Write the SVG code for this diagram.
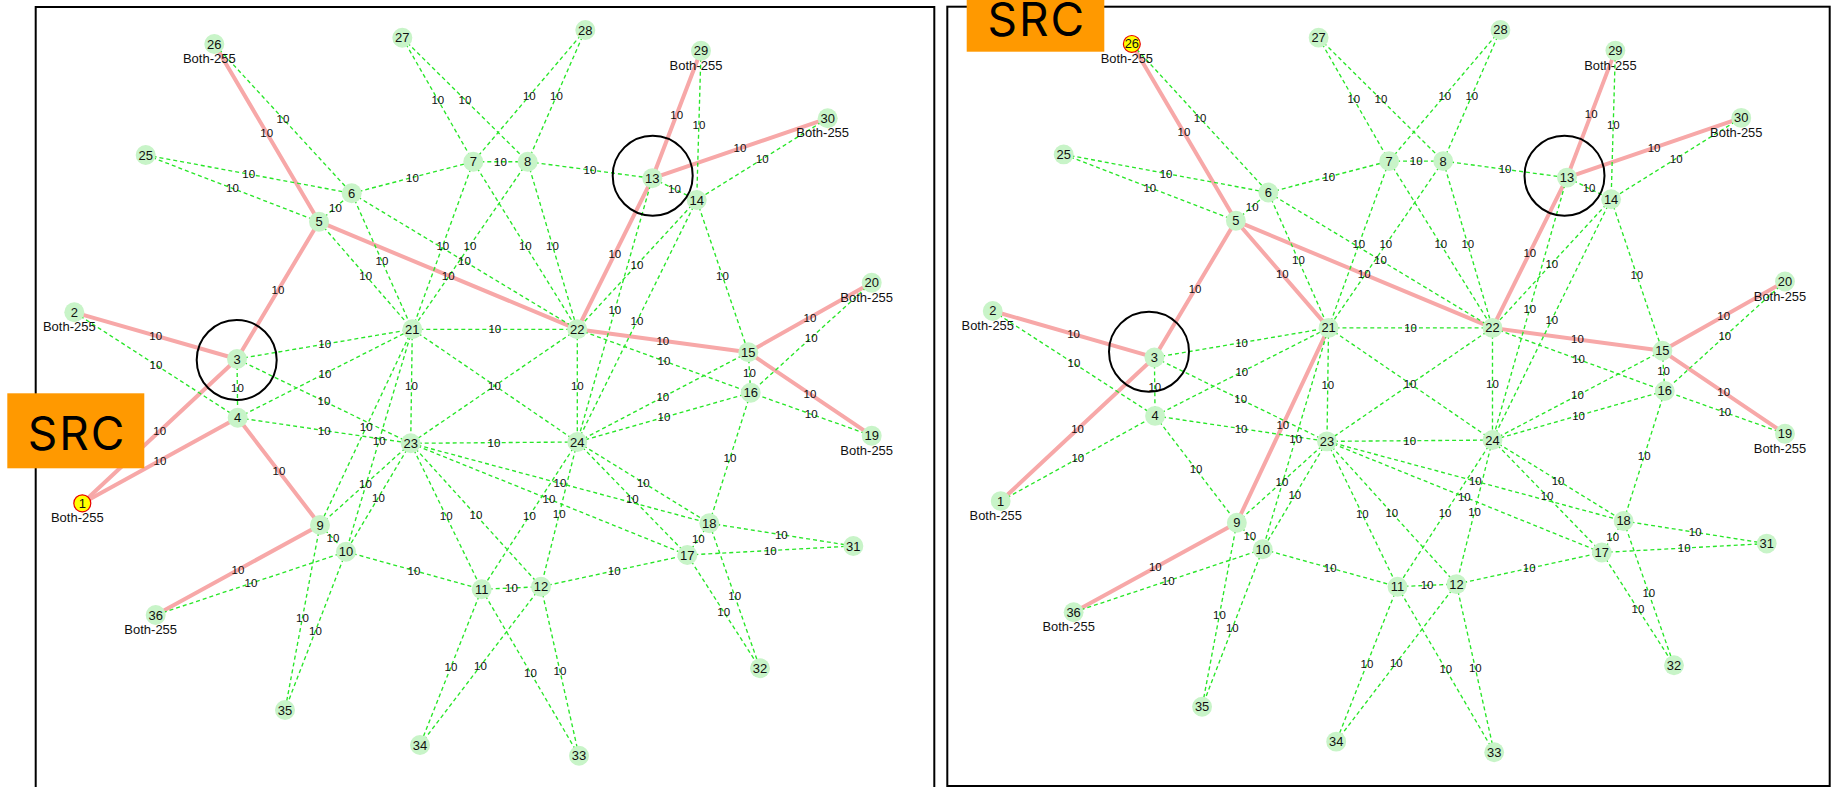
<svg xmlns="http://www.w3.org/2000/svg" width="1832" height="787" viewBox="0 0 1832 787">
<style>
  .frame{fill:none;stroke:#000;stroke-width:2}
  .g line{stroke:#28e628;stroke-width:1.35;stroke-dasharray:4 3;fill:none}
  .r line{stroke:#f7a8a8;stroke-width:4;stroke-linecap:round}
  .lbl text{font-family:"Liberation Sans",Arial,sans-serif;font-size:11.5px;fill:#111;text-anchor:middle;dominant-baseline:central}
  .node circle{fill:#c8f4c8}
  .node circle.src{fill:#ffff00;stroke:#e80000;stroke-width:1.2}
  .node text{font-family:"Liberation Sans",Arial,sans-serif;font-size:13px;fill:#111;text-anchor:middle;dominant-baseline:central}
  .node text.tag{font-size:13px}
  .ring{fill:none;stroke:#000;stroke-width:2}
  .badge rect{fill:#ff9900}
  .badge text{font-family:Inter,"DejaVu Sans",sans-serif;font-size:46px;letter-spacing:2px;fill:#000;text-anchor:middle}
</style>
<rect width="1832" height="787" fill="#fff"/>

<!-- left panel frame -->
<rect class="frame" x="35.7" y="7" width="898.6" height="800"/>
<!-- right panel frame -->
<rect class="frame" x="947.3" y="6.7" width="882.4" height="779.3"/>

<!-- ===== Left panel ===== -->
<g id="panel-a">
  <g id="a-connectors">
    <g class="r">
      <line x1="214.3" y1="44" x2="319" y2="221.7"/>
      <line x1="701" y1="50.7" x2="652.3" y2="178.3"/>
      <line x1="827.7" y1="118.3" x2="652.3" y2="178.3"/>
      <line x1="319" y1="221.7" x2="237" y2="359"/>
      <line x1="319" y1="221.7" x2="577.3" y2="329.3"/>
      <line x1="652.3" y1="178.3" x2="577.3" y2="329.3"/>
      <line x1="871.7" y1="282.7" x2="748.3" y2="352.3"/>
      <line x1="871.7" y1="435.7" x2="748.3" y2="352.3"/>
      <line x1="577.3" y1="329.3" x2="748.3" y2="352.3"/>
      <line x1="74.3" y1="312.3" x2="237" y2="359"/>
      <line x1="82.3" y1="503.3" x2="237" y2="359"/>
      <line x1="320" y1="525" x2="155.7" y2="615"/>
      <line x1="82.3" y1="503.3" x2="237.7" y2="417.7"/>
      <line x1="237.7" y1="417.7" x2="320" y2="525"/>
    </g>
    <g class="g">
      <line x1="214.3" y1="44" x2="351.7" y2="193.3"/>
      <line x1="145.7" y1="155" x2="351.7" y2="193.3"/>
      <line x1="145.7" y1="155" x2="319" y2="221.7"/>
      <line x1="402.3" y1="37.7" x2="473.3" y2="161.7"/>
      <line x1="402.3" y1="37.7" x2="527.7" y2="161.7"/>
      <line x1="585.3" y1="30" x2="473.3" y2="161.7"/>
      <line x1="585.3" y1="30" x2="527.7" y2="161.7"/>
      <line x1="701" y1="50.7" x2="696.7" y2="200"/>
      <line x1="827.7" y1="118.3" x2="696.7" y2="200"/>
      <line x1="319" y1="221.7" x2="351.7" y2="193.3"/>
      <line x1="351.7" y1="193.3" x2="473.3" y2="161.7"/>
      <line x1="473.3" y1="161.7" x2="527.7" y2="161.7"/>
      <line x1="527.7" y1="161.7" x2="652.3" y2="178.3"/>
      <line x1="652.3" y1="178.3" x2="696.7" y2="200"/>
      <line x1="351.7" y1="193.3" x2="412.3" y2="329.3"/>
      <line x1="351.7" y1="193.3" x2="577.3" y2="329.3"/>
      <line x1="473.3" y1="161.7" x2="412.3" y2="329.3"/>
      <line x1="473.3" y1="161.7" x2="577.3" y2="329.3"/>
      <line x1="527.7" y1="161.7" x2="412.3" y2="329.3"/>
      <line x1="527.7" y1="161.7" x2="577.3" y2="329.3"/>
      <line x1="652.3" y1="178.3" x2="577.3" y2="442"/>
      <line x1="696.7" y1="200" x2="577.3" y2="329.3"/>
      <line x1="696.7" y1="200" x2="577.3" y2="442"/>
      <line x1="696.7" y1="200" x2="748.3" y2="352.3"/>
      <line x1="871.7" y1="282.7" x2="750.7" y2="392.7"/>
      <line x1="871.7" y1="435.7" x2="750.7" y2="392.7"/>
      <line x1="748.3" y1="352.3" x2="750.7" y2="392.7"/>
      <line x1="577.3" y1="329.3" x2="750.7" y2="392.7"/>
      <line x1="748.3" y1="352.3" x2="577.3" y2="442"/>
      <line x1="750.7" y1="392.7" x2="577.3" y2="442"/>
      <line x1="750.7" y1="392.7" x2="709.3" y2="523.3"/>
      <line x1="412.3" y1="329.3" x2="577.3" y2="329.3"/>
      <line x1="412.3" y1="329.3" x2="410.7" y2="443.3"/>
      <line x1="412.3" y1="329.3" x2="577.3" y2="442"/>
      <line x1="577.3" y1="329.3" x2="410.7" y2="443.3"/>
      <line x1="577.3" y1="329.3" x2="577.3" y2="442"/>
      <line x1="410.7" y1="443.3" x2="577.3" y2="442"/>
      <line x1="74.3" y1="312.3" x2="237.7" y2="417.7"/>
      <line x1="237" y1="359" x2="237.7" y2="417.7"/>
      <line x1="237" y1="359" x2="412.3" y2="329.3"/>
      <line x1="237.7" y1="417.7" x2="412.3" y2="329.3"/>
      <line x1="237" y1="359" x2="410.7" y2="443.3"/>
      <line x1="237.7" y1="417.7" x2="410.7" y2="443.3"/>
      <line x1="412.3" y1="329.3" x2="346" y2="551.7"/>
      <line x1="410.7" y1="443.3" x2="320" y2="525"/>
      <line x1="410.7" y1="443.3" x2="346" y2="551.7"/>
      <line x1="320" y1="525" x2="346" y2="551.7"/>
      <line x1="346" y1="551.7" x2="155.7" y2="615"/>
      <line x1="320" y1="525" x2="285" y2="710"/>
      <line x1="346" y1="551.7" x2="285" y2="710"/>
      <line x1="410.7" y1="443.3" x2="481.7" y2="589.3"/>
      <line x1="410.7" y1="443.3" x2="541" y2="586.7"/>
      <line x1="577.3" y1="442" x2="481.7" y2="589.3"/>
      <line x1="577.3" y1="442" x2="541" y2="586.7"/>
      <line x1="346" y1="551.7" x2="481.7" y2="589.3"/>
      <line x1="481.7" y1="589.3" x2="541" y2="586.7"/>
      <line x1="541" y1="586.7" x2="687.3" y2="555"/>
      <line x1="410.7" y1="443.3" x2="687.3" y2="555"/>
      <line x1="410.7" y1="443.3" x2="709.3" y2="523.3"/>
      <line x1="577.3" y1="442" x2="687.3" y2="555"/>
      <line x1="577.3" y1="442" x2="709.3" y2="523.3"/>
      <line x1="687.3" y1="555" x2="709.3" y2="523.3"/>
      <line x1="709.3" y1="523.3" x2="853.3" y2="546"/>
      <line x1="687.3" y1="555" x2="853.3" y2="546"/>
      <line x1="709.3" y1="523.3" x2="760" y2="668.3"/>
      <line x1="687.3" y1="555" x2="760" y2="668.3"/>
      <line x1="481.7" y1="589.3" x2="579" y2="755.7"/>
      <line x1="541" y1="586.7" x2="579" y2="755.7"/>
      <line x1="481.7" y1="589.3" x2="420" y2="745"/>
      <line x1="541" y1="586.7" x2="420" y2="745"/>
      <line x1="319" y1="221.7" x2="412.3" y2="329.3"/>
      <line x1="412.3" y1="329.3" x2="320" y2="525"/>
    </g>
    <g class="lbl">
      <text x="266.7" y="132.9">10</text><text x="283" y="118.7">10</text>
      <text x="248.7" y="174.2">10</text><text x="232.4" y="188.4">10</text>
      <text x="437.8" y="99.7">10</text><text x="465" y="99.7">10</text>
      <text x="529.3" y="95.9">10</text><text x="556.5" y="95.9">10</text>
      <text x="676.7" y="114.5">10</text><text x="698.9" y="125.4">10</text>
      <text x="740" y="148.3">10</text><text x="762.2" y="159.2">10</text>
      <text x="335.4" y="207.5">10</text><text x="412.5" y="177.5">10</text>
      <text x="500.5" y="161.7">10</text><text x="590" y="170">10</text>
      <text x="674.5" y="189.2">10</text><text x="278" y="290.4">10</text>
      <text x="365.7" y="275.5">10</text><text x="448.2" y="275.5">10</text>
      <text x="382" y="261.3">10</text><text x="464.5" y="261.3">10</text>
      <text x="442.8" y="245.5">10</text><text x="525.3" y="245.5">10</text>
      <text x="470" y="245.5">10</text><text x="552.5" y="245.5">10</text>
      <text x="614.8" y="253.8">10</text><text x="614.8" y="310.2">10</text>
      <text x="637" y="264.7">10</text><text x="637" y="321">10</text>
      <text x="722.5" y="276.2">10</text><text x="810" y="317.5">10</text>
      <text x="811.2" y="337.7">10</text><text x="810" y="394">10</text>
      <text x="811.2" y="414.2">10</text><text x="749.5" y="372.5">10</text>
      <text x="662.8" y="340.8">10</text><text x="664" y="361">10</text>
      <text x="662.8" y="397.2">10</text><text x="664" y="417.4">10</text>
      <text x="730" y="458">10</text><text x="494.8" y="329.3">10</text>
      <text x="411.5" y="386.3">10</text><text x="494.4" y="386">10</text>
      <text x="577.3" y="385.7">10</text><text x="494" y="442.7">10</text>
      <text x="155.7" y="335.7">10</text><text x="156" y="365">10</text>
      <text x="237.4" y="388.4">10</text><text x="324.7" y="344.2">10</text>
      <text x="325" y="373.5">10</text><text x="323.9" y="401.2">10</text>
      <text x="324.2" y="430.5">10</text><text x="159.7" y="431.2">10</text>
      <text x="160" y="460.5">10</text><text x="278.9" y="471.4">10</text>
      <text x="366.2" y="427.2">10</text><text x="379.2" y="440.5">10</text>
      <text x="365.4" y="484.2">10</text><text x="378.4" y="497.5">10</text>
      <text x="333" y="538.4">10</text><text x="237.9" y="570">10</text>
      <text x="250.9" y="583.4">10</text><text x="302.5" y="617.5">10</text>
      <text x="315.5" y="630.9">10</text><text x="446.2" y="516.3">10</text>
      <text x="475.9" y="515">10</text><text x="529.5" y="515.7">10</text>
      <text x="559.2" y="514.4">10</text><text x="413.9" y="570.5">10</text>
      <text x="511.4" y="588">10</text><text x="614.2" y="570.9">10</text>
      <text x="549" y="499.2">10</text><text x="560" y="483.3">10</text>
      <text x="632.3" y="498.5">10</text><text x="643.3" y="482.7">10</text>
      <text x="698.3" y="539.2">10</text><text x="781.3" y="534.7">10</text>
      <text x="770.3" y="550.5">10</text><text x="734.7" y="595.8">10</text>
      <text x="723.7" y="611.7">10</text><text x="530.4" y="672.5">10</text>
      <text x="560" y="671.2">10</text><text x="450.9" y="667.2">10</text>
      <text x="480.5" y="665.9">10</text>
    </g>
  </g>
  <g id="a-nodes">
    <g id="a-n1" class="node"><circle class="src" cx="82.3" cy="503.3" r="8.5"/><text x="82.3" y="503.3">1</text><text class="tag" x="77.3" y="517.9">Both-255</text></g>
    <g id="a-n2" class="node"><circle cx="74.3" cy="312.3" r="10"/><text x="74.3" y="312.3">2</text><text class="tag" x="69.3" y="326.9">Both-255</text></g>
    <g id="a-n3" class="node"><circle cx="237" cy="359" r="10"/><text x="237" y="359">3</text></g>
    <g id="a-n4" class="node"><circle cx="237.7" cy="417.7" r="10"/><text x="237.7" y="417.7">4</text></g>
    <g id="a-n5" class="node"><circle cx="319" cy="221.7" r="10"/><text x="319" y="221.7">5</text></g>
    <g id="a-n6" class="node"><circle cx="351.7" cy="193.3" r="10"/><text x="351.7" y="193.3">6</text></g>
    <g id="a-n7" class="node"><circle cx="473.3" cy="161.7" r="10"/><text x="473.3" y="161.7">7</text></g>
    <g id="a-n8" class="node"><circle cx="527.7" cy="161.7" r="10"/><text x="527.7" y="161.7">8</text></g>
    <g id="a-n9" class="node"><circle cx="320" cy="525" r="10"/><text x="320" y="525">9</text></g>
    <g id="a-n10" class="node"><circle cx="346" cy="551.7" r="10"/><text x="346" y="551.7">10</text></g>
    <g id="a-n11" class="node"><circle cx="481.7" cy="589.3" r="10"/><text x="481.7" y="589.3">11</text></g>
    <g id="a-n12" class="node"><circle cx="541" cy="586.7" r="10"/><text x="541" y="586.7">12</text></g>
    <g id="a-n13" class="node"><circle cx="652.3" cy="178.3" r="10"/><text x="652.3" y="178.3">13</text></g>
    <g id="a-n14" class="node"><circle cx="696.7" cy="200" r="10"/><text x="696.7" y="200">14</text></g>
    <g id="a-n15" class="node"><circle cx="748.3" cy="352.3" r="10"/><text x="748.3" y="352.3">15</text></g>
    <g id="a-n16" class="node"><circle cx="750.7" cy="392.7" r="10"/><text x="750.7" y="392.7">16</text></g>
    <g id="a-n17" class="node"><circle cx="687.3" cy="555" r="10"/><text x="687.3" y="555">17</text></g>
    <g id="a-n18" class="node"><circle cx="709.3" cy="523.3" r="10"/><text x="709.3" y="523.3">18</text></g>
    <g id="a-n19" class="node"><circle cx="871.7" cy="435.7" r="10"/><text x="871.7" y="435.7">19</text><text class="tag" x="866.7" y="450.3">Both-255</text></g>
    <g id="a-n20" class="node"><circle cx="871.7" cy="282.7" r="10"/><text x="871.7" y="282.7">20</text><text class="tag" x="866.7" y="297.3">Both-255</text></g>
    <g id="a-n21" class="node"><circle cx="412.3" cy="329.3" r="10"/><text x="412.3" y="329.3">21</text></g>
    <g id="a-n22" class="node"><circle cx="577.3" cy="329.3" r="10"/><text x="577.3" y="329.3">22</text></g>
    <g id="a-n23" class="node"><circle cx="410.7" cy="443.3" r="10"/><text x="410.7" y="443.3">23</text></g>
    <g id="a-n24" class="node"><circle cx="577.3" cy="442" r="10"/><text x="577.3" y="442">24</text></g>
    <g id="a-n25" class="node"><circle cx="145.7" cy="155" r="10"/><text x="145.7" y="155">25</text></g>
    <g id="a-n26" class="node"><circle cx="214.3" cy="44" r="10"/><text x="214.3" y="44">26</text><text class="tag" x="209.3" y="58.7">Both-255</text></g>
    <g id="a-n27" class="node"><circle cx="402.3" cy="37.7" r="10"/><text x="402.3" y="37.7">27</text></g>
    <g id="a-n28" class="node"><circle cx="585.3" cy="30" r="10"/><text x="585.3" y="30">28</text></g>
    <g id="a-n29" class="node"><circle cx="701" cy="50.7" r="10"/><text x="701" y="50.7">29</text><text class="tag" x="696" y="65.3">Both-255</text></g>
    <g id="a-n30" class="node"><circle cx="827.7" cy="118.3" r="10"/><text x="827.7" y="118.3">30</text><text class="tag" x="822.7" y="132.9">Both-255</text></g>
    <g id="a-n31" class="node"><circle cx="853.3" cy="546" r="10"/><text x="853.3" y="546">31</text></g>
    <g id="a-n32" class="node"><circle cx="760" cy="668.3" r="10"/><text x="760" y="668.3">32</text></g>
    <g id="a-n33" class="node"><circle cx="579" cy="755.7" r="10"/><text x="579" y="755.7">33</text></g>
    <g id="a-n34" class="node"><circle cx="420" cy="745" r="10"/><text x="420" y="745">34</text></g>
    <g id="a-n35" class="node"><circle cx="285" cy="710" r="10"/><text x="285" y="710">35</text></g>
    <g id="a-n36" class="node"><circle cx="155.7" cy="615" r="10"/><text x="155.7" y="615">36</text><text class="tag" x="150.7" y="629.8">Both-255</text></g>
  </g>
  <circle class="ring" cx="236.7" cy="360" r="40"/>
  <circle class="ring" cx="652.7" cy="175.7" r="40"/>
</g>

<!-- ===== Right panel (same layout, drawn slightly smaller) ===== -->
<g id="panel-b">
  <g transform="matrix(0.99351 0 0 0.99531 918.93 0.14)">
  <g id="b-connectors">
    <g class="r">
      <line x1="214.3" y1="44" x2="319" y2="221.7"/>
      <line x1="701" y1="50.7" x2="652.3" y2="178.3"/>
      <line x1="827.7" y1="118.3" x2="652.3" y2="178.3"/>
      <line x1="319" y1="221.7" x2="237" y2="359"/>
      <line x1="319" y1="221.7" x2="577.3" y2="329.3"/>
      <line x1="652.3" y1="178.3" x2="577.3" y2="329.3"/>
      <line x1="871.7" y1="282.7" x2="748.3" y2="352.3"/>
      <line x1="871.7" y1="435.7" x2="748.3" y2="352.3"/>
      <line x1="577.3" y1="329.3" x2="748.3" y2="352.3"/>
      <line x1="74.3" y1="312.3" x2="237" y2="359"/>
      <line x1="82.3" y1="503.3" x2="237" y2="359"/>
      <line x1="320" y1="525" x2="155.7" y2="615"/>
      <line x1="319" y1="221.7" x2="412.3" y2="329.3"/>
      <line x1="412.3" y1="329.3" x2="320" y2="525"/>
    </g>
    <g class="g">
      <line x1="214.3" y1="44" x2="351.7" y2="193.3"/>
      <line x1="145.7" y1="155" x2="351.7" y2="193.3"/>
      <line x1="145.7" y1="155" x2="319" y2="221.7"/>
      <line x1="402.3" y1="37.7" x2="473.3" y2="161.7"/>
      <line x1="402.3" y1="37.7" x2="527.7" y2="161.7"/>
      <line x1="585.3" y1="30" x2="473.3" y2="161.7"/>
      <line x1="585.3" y1="30" x2="527.7" y2="161.7"/>
      <line x1="701" y1="50.7" x2="696.7" y2="200"/>
      <line x1="827.7" y1="118.3" x2="696.7" y2="200"/>
      <line x1="319" y1="221.7" x2="351.7" y2="193.3"/>
      <line x1="351.7" y1="193.3" x2="473.3" y2="161.7"/>
      <line x1="473.3" y1="161.7" x2="527.7" y2="161.7"/>
      <line x1="527.7" y1="161.7" x2="652.3" y2="178.3"/>
      <line x1="652.3" y1="178.3" x2="696.7" y2="200"/>
      <line x1="351.7" y1="193.3" x2="412.3" y2="329.3"/>
      <line x1="351.7" y1="193.3" x2="577.3" y2="329.3"/>
      <line x1="473.3" y1="161.7" x2="412.3" y2="329.3"/>
      <line x1="473.3" y1="161.7" x2="577.3" y2="329.3"/>
      <line x1="527.7" y1="161.7" x2="412.3" y2="329.3"/>
      <line x1="527.7" y1="161.7" x2="577.3" y2="329.3"/>
      <line x1="652.3" y1="178.3" x2="577.3" y2="442"/>
      <line x1="696.7" y1="200" x2="577.3" y2="329.3"/>
      <line x1="696.7" y1="200" x2="577.3" y2="442"/>
      <line x1="696.7" y1="200" x2="748.3" y2="352.3"/>
      <line x1="871.7" y1="282.7" x2="750.7" y2="392.7"/>
      <line x1="871.7" y1="435.7" x2="750.7" y2="392.7"/>
      <line x1="748.3" y1="352.3" x2="750.7" y2="392.7"/>
      <line x1="577.3" y1="329.3" x2="750.7" y2="392.7"/>
      <line x1="748.3" y1="352.3" x2="577.3" y2="442"/>
      <line x1="750.7" y1="392.7" x2="577.3" y2="442"/>
      <line x1="750.7" y1="392.7" x2="709.3" y2="523.3"/>
      <line x1="412.3" y1="329.3" x2="577.3" y2="329.3"/>
      <line x1="412.3" y1="329.3" x2="410.7" y2="443.3"/>
      <line x1="412.3" y1="329.3" x2="577.3" y2="442"/>
      <line x1="577.3" y1="329.3" x2="410.7" y2="443.3"/>
      <line x1="577.3" y1="329.3" x2="577.3" y2="442"/>
      <line x1="410.7" y1="443.3" x2="577.3" y2="442"/>
      <line x1="74.3" y1="312.3" x2="237.7" y2="417.7"/>
      <line x1="237" y1="359" x2="237.7" y2="417.7"/>
      <line x1="237" y1="359" x2="412.3" y2="329.3"/>
      <line x1="237.7" y1="417.7" x2="412.3" y2="329.3"/>
      <line x1="237" y1="359" x2="410.7" y2="443.3"/>
      <line x1="237.7" y1="417.7" x2="410.7" y2="443.3"/>
      <line x1="412.3" y1="329.3" x2="346" y2="551.7"/>
      <line x1="410.7" y1="443.3" x2="320" y2="525"/>
      <line x1="410.7" y1="443.3" x2="346" y2="551.7"/>
      <line x1="320" y1="525" x2="346" y2="551.7"/>
      <line x1="346" y1="551.7" x2="155.7" y2="615"/>
      <line x1="320" y1="525" x2="285" y2="710"/>
      <line x1="346" y1="551.7" x2="285" y2="710"/>
      <line x1="410.7" y1="443.3" x2="481.7" y2="589.3"/>
      <line x1="410.7" y1="443.3" x2="541" y2="586.7"/>
      <line x1="577.3" y1="442" x2="481.7" y2="589.3"/>
      <line x1="577.3" y1="442" x2="541" y2="586.7"/>
      <line x1="346" y1="551.7" x2="481.7" y2="589.3"/>
      <line x1="481.7" y1="589.3" x2="541" y2="586.7"/>
      <line x1="541" y1="586.7" x2="687.3" y2="555"/>
      <line x1="410.7" y1="443.3" x2="687.3" y2="555"/>
      <line x1="410.7" y1="443.3" x2="709.3" y2="523.3"/>
      <line x1="577.3" y1="442" x2="687.3" y2="555"/>
      <line x1="577.3" y1="442" x2="709.3" y2="523.3"/>
      <line x1="687.3" y1="555" x2="709.3" y2="523.3"/>
      <line x1="709.3" y1="523.3" x2="853.3" y2="546"/>
      <line x1="687.3" y1="555" x2="853.3" y2="546"/>
      <line x1="709.3" y1="523.3" x2="760" y2="668.3"/>
      <line x1="687.3" y1="555" x2="760" y2="668.3"/>
      <line x1="481.7" y1="589.3" x2="579" y2="755.7"/>
      <line x1="541" y1="586.7" x2="579" y2="755.7"/>
      <line x1="481.7" y1="589.3" x2="420" y2="745"/>
      <line x1="541" y1="586.7" x2="420" y2="745"/>
      <line x1="82.3" y1="503.3" x2="237.7" y2="417.7"/>
      <line x1="237.7" y1="417.7" x2="320" y2="525"/>
    </g>
    <g class="lbl">
      <text x="266.7" y="132.9">10</text><text x="283" y="118.7">10</text>
      <text x="248.7" y="174.2">10</text><text x="232.4" y="188.4">10</text>
      <text x="437.8" y="99.7">10</text><text x="465" y="99.7">10</text>
      <text x="529.3" y="95.9">10</text><text x="556.5" y="95.9">10</text>
      <text x="676.7" y="114.5">10</text><text x="698.9" y="125.4">10</text>
      <text x="740" y="148.3">10</text><text x="762.2" y="159.2">10</text>
      <text x="335.4" y="207.5">10</text><text x="412.5" y="177.5">10</text>
      <text x="500.5" y="161.7">10</text><text x="590" y="170">10</text>
      <text x="674.5" y="189.2">10</text><text x="278" y="290.4">10</text>
      <text x="365.7" y="275.5">10</text><text x="448.2" y="275.5">10</text>
      <text x="382" y="261.3">10</text><text x="464.5" y="261.3">10</text>
      <text x="442.8" y="245.5">10</text><text x="525.3" y="245.5">10</text>
      <text x="470" y="245.5">10</text><text x="552.5" y="245.5">10</text>
      <text x="614.8" y="253.8">10</text><text x="614.8" y="310.2">10</text>
      <text x="637" y="264.7">10</text><text x="637" y="321">10</text>
      <text x="722.5" y="276.2">10</text><text x="810" y="317.5">10</text>
      <text x="811.2" y="337.7">10</text><text x="810" y="394">10</text>
      <text x="811.2" y="414.2">10</text><text x="749.5" y="372.5">10</text>
      <text x="662.8" y="340.8">10</text><text x="664" y="361">10</text>
      <text x="662.8" y="397.2">10</text><text x="664" y="417.4">10</text>
      <text x="730" y="458">10</text><text x="494.8" y="329.3">10</text>
      <text x="411.5" y="386.3">10</text><text x="494.4" y="386">10</text>
      <text x="577.3" y="385.7">10</text><text x="494" y="442.7">10</text>
      <text x="155.7" y="335.7">10</text><text x="156" y="365">10</text>
      <text x="237.4" y="388.4">10</text><text x="324.7" y="344.2">10</text>
      <text x="325" y="373.5">10</text><text x="323.9" y="401.2">10</text>
      <text x="324.2" y="430.5">10</text><text x="159.7" y="431.2">10</text>
      <text x="160" y="460.5">10</text><text x="278.9" y="471.4">10</text>
      <text x="366.2" y="427.2">10</text><text x="379.2" y="440.5">10</text>
      <text x="365.4" y="484.2">10</text><text x="378.4" y="497.5">10</text>
      <text x="333" y="538.4">10</text><text x="237.9" y="570">10</text>
      <text x="250.9" y="583.4">10</text><text x="302.5" y="617.5">10</text>
      <text x="315.5" y="630.9">10</text><text x="446.2" y="516.3">10</text>
      <text x="475.9" y="515">10</text><text x="529.5" y="515.7">10</text>
      <text x="559.2" y="514.4">10</text><text x="413.9" y="570.5">10</text>
      <text x="511.4" y="588">10</text><text x="614.2" y="570.9">10</text>
      <text x="549" y="499.2">10</text><text x="560" y="483.3">10</text>
      <text x="632.3" y="498.5">10</text><text x="643.3" y="482.7">10</text>
      <text x="698.3" y="539.2">10</text><text x="781.3" y="534.7">10</text>
      <text x="770.3" y="550.5">10</text><text x="734.7" y="595.8">10</text>
      <text x="723.7" y="611.7">10</text><text x="530.4" y="672.5">10</text>
      <text x="560" y="671.2">10</text><text x="450.9" y="667.2">10</text>
      <text x="480.5" y="665.9">10</text>
    </g>
  </g>
  <g id="b-nodes">
    <g id="b-n1" class="node"><circle cx="82.3" cy="503.3" r="10"/><text x="82.3" y="503.3">1</text><text class="tag" x="77.3" y="517.9">Both-255</text></g>
    <g id="b-n2" class="node"><circle cx="74.3" cy="312.3" r="10"/><text x="74.3" y="312.3">2</text><text class="tag" x="69.3" y="326.9">Both-255</text></g>
    <g id="b-n3" class="node"><circle cx="237" cy="359" r="10"/><text x="237" y="359">3</text></g>
    <g id="b-n4" class="node"><circle cx="237.7" cy="417.7" r="10"/><text x="237.7" y="417.7">4</text></g>
    <g id="b-n5" class="node"><circle cx="319" cy="221.7" r="10"/><text x="319" y="221.7">5</text></g>
    <g id="b-n6" class="node"><circle cx="351.7" cy="193.3" r="10"/><text x="351.7" y="193.3">6</text></g>
    <g id="b-n7" class="node"><circle cx="473.3" cy="161.7" r="10"/><text x="473.3" y="161.7">7</text></g>
    <g id="b-n8" class="node"><circle cx="527.7" cy="161.7" r="10"/><text x="527.7" y="161.7">8</text></g>
    <g id="b-n9" class="node"><circle cx="320" cy="525" r="10"/><text x="320" y="525">9</text></g>
    <g id="b-n10" class="node"><circle cx="346" cy="551.7" r="10"/><text x="346" y="551.7">10</text></g>
    <g id="b-n11" class="node"><circle cx="481.7" cy="589.3" r="10"/><text x="481.7" y="589.3">11</text></g>
    <g id="b-n12" class="node"><circle cx="541" cy="586.7" r="10"/><text x="541" y="586.7">12</text></g>
    <g id="b-n13" class="node"><circle cx="652.3" cy="178.3" r="10"/><text x="652.3" y="178.3">13</text></g>
    <g id="b-n14" class="node"><circle cx="696.7" cy="200" r="10"/><text x="696.7" y="200">14</text></g>
    <g id="b-n15" class="node"><circle cx="748.3" cy="352.3" r="10"/><text x="748.3" y="352.3">15</text></g>
    <g id="b-n16" class="node"><circle cx="750.7" cy="392.7" r="10"/><text x="750.7" y="392.7">16</text></g>
    <g id="b-n17" class="node"><circle cx="687.3" cy="555" r="10"/><text x="687.3" y="555">17</text></g>
    <g id="b-n18" class="node"><circle cx="709.3" cy="523.3" r="10"/><text x="709.3" y="523.3">18</text></g>
    <g id="b-n19" class="node"><circle cx="871.7" cy="435.7" r="10"/><text x="871.7" y="435.7">19</text><text class="tag" x="866.7" y="450.3">Both-255</text></g>
    <g id="b-n20" class="node"><circle cx="871.7" cy="282.7" r="10"/><text x="871.7" y="282.7">20</text><text class="tag" x="866.7" y="297.3">Both-255</text></g>
    <g id="b-n21" class="node"><circle cx="412.3" cy="329.3" r="10"/><text x="412.3" y="329.3">21</text></g>
    <g id="b-n22" class="node"><circle cx="577.3" cy="329.3" r="10"/><text x="577.3" y="329.3">22</text></g>
    <g id="b-n23" class="node"><circle cx="410.7" cy="443.3" r="10"/><text x="410.7" y="443.3">23</text></g>
    <g id="b-n24" class="node"><circle cx="577.3" cy="442" r="10"/><text x="577.3" y="442">24</text></g>
    <g id="b-n25" class="node"><circle cx="145.7" cy="155" r="10"/><text x="145.7" y="155">25</text></g>
    <g id="b-n26" class="node"><circle class="src" cx="214.3" cy="44" r="8.5"/><text x="214.3" y="44">26</text><text class="tag" x="209.3" y="58.7">Both-255</text></g>
    <g id="b-n27" class="node"><circle cx="402.3" cy="37.7" r="10"/><text x="402.3" y="37.7">27</text></g>
    <g id="b-n28" class="node"><circle cx="585.3" cy="30" r="10"/><text x="585.3" y="30">28</text></g>
    <g id="b-n29" class="node"><circle cx="701" cy="50.7" r="10"/><text x="701" y="50.7">29</text><text class="tag" x="696" y="65.3">Both-255</text></g>
    <g id="b-n30" class="node"><circle cx="827.7" cy="118.3" r="10"/><text x="827.7" y="118.3">30</text><text class="tag" x="822.7" y="132.9">Both-255</text></g>
    <g id="b-n31" class="node"><circle cx="853.3" cy="546" r="10"/><text x="853.3" y="546">31</text></g>
    <g id="b-n32" class="node"><circle cx="760" cy="668.3" r="10"/><text x="760" y="668.3">32</text></g>
    <g id="b-n33" class="node"><circle cx="579" cy="755.7" r="10"/><text x="579" y="755.7">33</text></g>
    <g id="b-n34" class="node"><circle cx="420" cy="745" r="10"/><text x="420" y="745">34</text></g>
    <g id="b-n35" class="node"><circle cx="285" cy="710" r="10"/><text x="285" y="710">35</text></g>
    <g id="b-n36" class="node"><circle cx="155.7" cy="615" r="10"/><text x="155.7" y="615">36</text><text class="tag" x="150.7" y="629.8">Both-255</text></g>
  </g>
  </g>
  <circle class="ring" cx="1149" cy="351.7" r="40"/>
  <circle class="ring" cx="1564.5" cy="175.7" r="40"/>
</g>

<!-- source badges -->
<g id="badge-a" class="badge">
  <rect x="7.3" y="393.3" width="137" height="75"/>
  <text x="77" y="450">SRC</text>
</g>
<g id="badge-b" class="badge">
  <rect x="966.7" y="-23.3" width="137.6" height="75"/>
  <text x="1036.8" y="36">SRC</text>
</g>
</svg>
